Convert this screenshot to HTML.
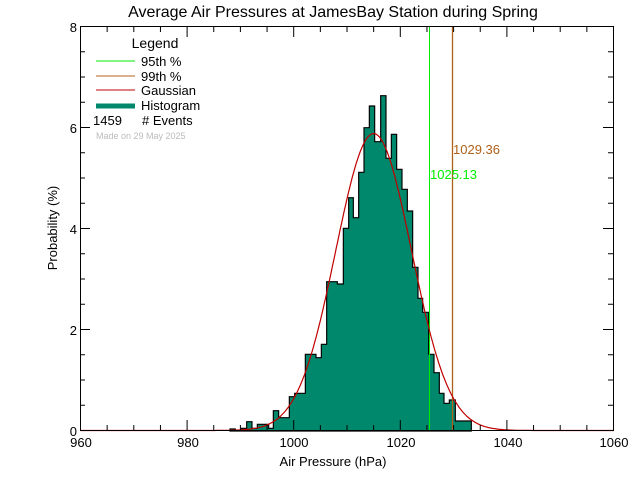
<!DOCTYPE html>
<html><head><meta charset="utf-8"><style>
body{margin:0;background:#fff;}
svg{display:block;font-family:"Liberation Sans",sans-serif;}
</style></head><body>
<svg width="640" height="480" viewBox="0 0 640 480" xmlns="http://www.w3.org/2000/svg">
<rect width="640" height="480" fill="#fff"/>
<text x="333" y="17" font-size="16" text-anchor="middle">Average Air Pressures at JamesBay Station during Spring</text>
<g transform="translate(220,80) scale(0.33333)">
<path id="hist" fill="#00886c" stroke="#000" stroke-width="3.5" d="M30,1053 V1047 H46 V1053 H64 V1045 H80 V1025 H96 V1045 H112 V1033 H146 V1045 H160 V992 H176 V1013 H208 V950 H224 V940 H256 V823 H288 V833 H304 V793 H320 V605 H336 V605 H352 V612 H370 V445 H386 V353 H400 V413 H416 V277 H432 V143 H448 V78 H464 V185 H482 V47 H498 V235 H514 V163 H530 V268 H546 V328 H562 V393 H578 V562 H594 V655 H608 V697 H626 V823 H642 V878 H658 V940 H672 V970 H688 V960 H706 V1023 H754 V1053 Z"/>
</g>
<line x1="429.5" y1="27" x2="429.5" y2="430" stroke="#00ee00" stroke-width="1"/>
<line x1="452.5" y1="27" x2="452.5" y2="430" stroke="#b06018" stroke-width="1.3"/>
<text x="453" y="154" font-size="13" fill="#b06018">1029.36</text>
<text x="430" y="179" font-size="13" fill="#00ee00">1025.13</text>
<path id="gauss" fill="none" stroke="#c00000" stroke-width="1.2"/>
<rect x="80.5" y="26.5" width="533" height="404" fill="none" stroke="#000" stroke-width="1"/>
<g id="ticks" stroke="#000" stroke-width="1"></g>
<g font-size="13" text-anchor="middle">
<text x="81" y="447">960</text><text x="188" y="447">980</text><text x="294" y="447">1000</text><text x="401" y="447">1020</text><text x="508" y="447">1040</text><text x="614" y="447">1060</text>
<text x="333" y="466">Air Pressure (hPa)</text>
</g>
<g font-size="13" text-anchor="end">
<text x="77" y="436">0</text><text x="77" y="335">2</text><text x="77" y="234">4</text><text x="77" y="133">6</text><text x="77" y="32">8</text>
</g>
<text transform="translate(57,228) rotate(-90)" font-size="13" text-anchor="middle">Probability (%)</text>
<text x="155" y="48" font-size="14" text-anchor="middle">Legend</text>
<line x1="96" y1="61" x2="135" y2="61" stroke="#00ee00"/>
<line x1="96" y1="76" x2="135" y2="76" stroke="#b06018"/>
<line x1="96" y1="90" x2="135" y2="90" stroke="#c00000"/>
<line x1="96" y1="106" x2="135" y2="106" stroke="#00886c" stroke-width="5"/>
<g font-size="13"><text x="141" y="66">95th %</text><text x="141" y="81">99th %</text><text x="141" y="95">Gaussian</text><text x="141" y="110">Histogram</text><text x="93" y="125">1459</text><text x="142" y="125"># Events</text></g>
<text x="96" y="139" font-size="9" fill="#bbb">Made on 29 May 2025</text>
</svg>
<script>
var d="",mu=1015.0,s=7.1,pk=5.88;
for(var v=960;v<=1060;v+=0.25){var x=80.5+(v-960)*5.33;var y=430.5-pk*Math.exp(-0.5*((v-mu)/s)**2)*50.5;d+=(d?"L":"M")+x.toFixed(1)+","+y.toFixed(1);}
document.getElementById("gauss").setAttribute("d",d);
var t="";
for(var v=960;v<=1060;v+=5){var x=80.5+(v-960)*5.33;var L=(v%20==0)?10:5;t+='<line x1="'+x+'" y1="430" x2="'+x+'" y2="'+(430-L)+'"/><line x1="'+x+'" y1="27" x2="'+x+'" y2="'+(27+L)+'"/>';}
for(var p=0;p<=8;p+=0.5){var y=430.5-p*50.5;var L=(p%2==0)?10:5;t+='<line x1="80" y1="'+y+'" x2="'+(80+L)+'" y2="'+y+'"/><line x1="613" y1="'+y+'" x2="'+(613-L)+'" y2="'+y+'"/>';}
document.getElementById("ticks").innerHTML=t;
</script>
</body></html>
